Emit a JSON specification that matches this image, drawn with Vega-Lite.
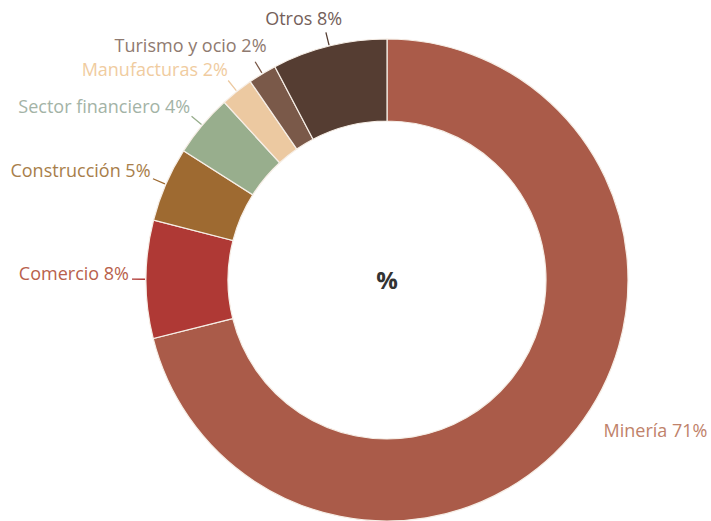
{
  "$schema": "https://vega.github.io/schema/vega-lite/v6.json",
  "width": 648,
  "height": 482,
  "padding": {"left": 63, "top": 39, "right": 0, "bottom": 0},
  "autosize": {"type": "none"},
  "background": "white",
  "view": {"stroke": null},
  "config": {"font": "Open Sans"},
  "data": {
    "values": [
      {"cat": "Minería", "v": 71.1, "o": 1, "label": "Minería 71%"},
      {"cat": "Comercio", "v": 7.9, "o": 2, "label": "Comercio 8%"},
      {"cat": "Construcción", "v": 5.0, "o": 3, "label": "Construcción 5%"},
      {"cat": "Sector financiero", "v": 4.2, "o": 4, "label": "Sector financiero 4%"},
      {"cat": "Manufacturas", "v": 2.2, "o": 5, "label": "Manufacturas 2%"},
      {"cat": "Turismo y ocio", "v": 1.9, "o": 6, "label": "Turismo y ocio 2%"},
      {"cat": "Otros", "v": 7.7, "o": 7, "label": "Otros 8%"}
    ]
  },
  "layer": [
    {
      "mark": {"type": "arc", "outerRadius": 241, "innerRadius": 159, "stroke": "#f6eee6", "strokeWidth": 1.2},
      "encoding": {
        "theta": {"field": "v", "type": "quantitative", "stack": true},
        "order": {"field": "o", "type": "quantitative"},
        "color": {
          "field": "cat", "type": "nominal", "legend": null,
          "scale": {
            "domain": ["Minería", "Comercio", "Construcción", "Sector financiero", "Manufacturas", "Turismo y ocio", "Otros"],
            "range": ["#aa5b49", "#af3935", "#9e6a31", "#98ae8d", "#ecc9a1", "#7a5949", "#553d32"]
          }
        }
      }
    },
    {
      "mark": {"type": "arc", "outerRadius": 255, "innerRadius": 242, "padAngle": 3, "fill": null, "fillOpacity": 0, "strokeWidth": 1.3},
      "encoding": {
        "theta": {"field": "v", "type": "quantitative", "stack": true},
        "order": {"field": "o", "type": "quantitative"},
        "strokeOpacity": {"condition": {"test": "datum.cat === 'Minería'", "value": 0}, "value": 1},
        "stroke": {
          "field": "cat", "type": "nominal", "legend": null,
          "scale": {
            "domain": ["Minería", "Comercio", "Construcción", "Sector financiero", "Manufacturas", "Turismo y ocio", "Otros"],
            "range": ["#aa5b49", "#af3935", "#9e6a31", "#98ae8d", "#ecc9a1", "#7a5949", "#553d32"]
          }
        }
      }
    },
    {
      "mark": {"type": "text", "radius": 262, "align": "right", "baseline": "middle", "fontSize": 18, "dx": 4, "dy": -4},
      "encoding": {
        "theta": {"field": "v", "type": "quantitative", "stack": true},
        "order": {"field": "o", "type": "quantitative"},
        "text": {"condition": {"test": "datum.cat === 'Minería' || datum.cat === 'Otros' || datum.cat === 'Turismo y ocio'", "value": ""}, "field": "label", "type": "nominal"},
        "color": {
          "field": "cat", "type": "nominal", "legend": null,
          "scale": {
            "domain": ["Minería", "Comercio", "Construcción", "Sector financiero", "Manufacturas", "Turismo y ocio", "Otros"],
            "range": ["#c0826a", "#b8614c", "#a87e4a", "#a3b3a6", "#f0cc9f", "#8f7a70", "#74605a"]
          }
        }
      }
    },
    {
      "mark": {"type": "text", "radius": 262, "align": "right", "baseline": "middle", "fontSize": 18, "dx": 18, "dy": -6},
      "encoding": {
        "theta": {"field": "v", "type": "quantitative", "stack": true},
        "order": {"field": "o", "type": "quantitative"},
        "text": {"condition": {"test": "datum.cat !== 'Otros'", "value": ""}, "field": "label", "type": "nominal"},
        "color": {"value": "#74605a"}
      }
    },
    {
      "mark": {"type": "text", "radius": 262, "align": "right", "baseline": "middle", "fontSize": 18, "dx": 15, "dy": -9},
      "encoding": {
        "theta": {"field": "v", "type": "quantitative", "stack": true},
        "order": {"field": "o", "type": "quantitative"},
        "text": {"condition": {"test": "datum.cat !== 'Turismo y ocio'", "value": ""}, "field": "label", "type": "nominal"},
        "color": {"value": "#8f7a70"}
      }
    },
    {
      "mark": {"type": "text", "radius": 262, "align": "left", "baseline": "middle", "fontSize": 18, "dx": 10, "dy": -9},
      "encoding": {
        "theta": {"field": "v", "type": "quantitative", "stack": true},
        "order": {"field": "o", "type": "quantitative"},
        "text": {"condition": {"test": "datum.cat !== 'Minería'", "value": ""}, "field": "label", "type": "nominal"},
        "color": {"value": "#c0826a"}
      }
    },
    {
      "data": {"values": [{"t": "%"}]},
      "mark": {"type": "text", "fontSize": 24, "fontWeight": "bold", "color": "#333333", "baseline": "middle", "align": "center", "dy": 2},
      "encoding": {"text": {"field": "t", "type": "nominal"}}
    }
  ],
  "resolve": {"scale": {"color": "independent"}}
}
